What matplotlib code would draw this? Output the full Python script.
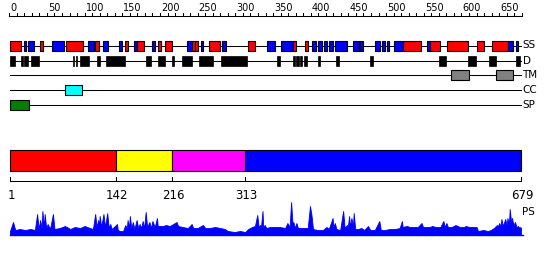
import matplotlib
matplotlib.use("Agg")
import matplotlib.pyplot as plt
from matplotlib.patches import Rectangle

SEQ_LEN = 679

# Secondary structure (SS): (start, end, type) H=helix(red) E=strand(blue)
ss_segments = [
    (1, 15, "H"), (19, 22, "E"), (25, 33, "E"), (41, 45, "H"), (57, 73, "E"),
    (75, 98, "H"), (105, 113, "E"), (114, 119, "H"), (125, 131, "E"), (145, 149, "E"),
    (153, 157, "H"), (165, 169, "E"), (169, 179, "H"), (189, 193, "E"), (198, 202, "H"),
    (206, 216, "H"), (236, 242, "E"), (242, 246, "H"), (247, 250, "H"), (254, 257, "E"),
    (265, 280, "H"), (282, 287, "E"), (317, 326, "H"), (342, 352, "E"), (361, 376, "E"),
    (376, 380, "H"), (392, 397, "H"), (402, 407, "E"), (410, 415, "E"), (417, 421, "E"),
    (424, 429, "E"), (432, 448, "E"), (456, 464, "E"), (464, 466, "H"), (466, 469, "E"),
    (485, 492, "E"), (494, 499, "E"), (501, 504, "E"), (510, 522, "E"), (522, 546, "H"),
    (554, 558, "E"), (558, 571, "H"), (581, 609, "H"), (621, 630, "H"), (640, 662, "H"),
    (662, 668, "E"), (673, 675, "E"),
]
ss_colors = {"H": "#ff0000", "E": "#0000ff"}

# Disorder (D) segments
d_segments = [
    (1, 8), (15, 18), (20, 25), (29, 39), (84, 86), (88, 90), (94, 106), (116, 121),
    (129, 154), (182, 188), (197, 206), (216, 219), (229, 243), (252, 270), (281, 316),
    (355, 359), (377, 379), (381, 384), (386, 388), (391, 395), (409, 412), (434, 437),
    (479, 482), (570, 579), (609, 619), (636, 646), (673, 678),
]

# Transmembrane (TM), coiled coil (CC), signal peptide (SP)
tm_segments = [(586, 610), (646, 669)]
cc_segments = [(74, 96)]
sp_segments = [(1, 26)]

track_names = ["SS", "D", "TM", "CC", "SP"]

# Domain bar
domain_bounds = [1, 142, 216, 313, 679]
domain_colors = ["#ff0000", "#ffff00", "#ff00ff", "#0000ff"]

# Ruler
ruler_ticks = list(range(0, 681, 10))
ruler_labels = list(range(0, 651, 50))

# PS profile (residue, value)
ps_pos = [1, 5, 8, 14, 21, 28, 34, 37, 39, 41, 43, 44, 46, 47, 49, 51, 54, 58, 60, 67,
          74, 81, 87, 94, 100, 107, 111, 114, 116, 118, 119, 120, 122, 125, 127, 130, 132,
          134, 136, 143, 144, 147, 151, 154, 156, 157, 159, 160, 162, 164, 166, 169, 171,
          173, 175, 177, 179, 181, 183, 186, 188, 190, 193, 196, 197, 204, 208, 213, 222,
          224, 230, 237, 242, 244, 250, 257, 260, 266, 273, 280, 286, 290, 299, 306, 313,
          317, 322, 326, 329, 331, 333, 334, 336, 337, 339, 341, 346, 353, 359, 366, 369,
          372, 374, 376, 377, 379, 381, 383, 390, 396, 399, 401, 403, 409, 416, 421, 424,
          429, 430, 432, 434, 439, 443, 445, 448, 449, 451, 452, 454, 456, 457, 459, 463,
          467, 471, 476, 479, 485, 491, 493, 498, 505, 512, 518, 521, 522, 527, 532, 538,
          542, 547, 549, 554, 558, 561, 566, 572, 576, 578, 580, 582, 587, 592, 598, 604,
          605, 611, 618, 620, 622, 629, 635, 639, 643, 647, 648, 650, 652, 653, 655, 658,
          660, 661, 663, 664, 666, 667, 669, 671, 673, 675, 677, 678, 679]
ps_val = [4, 13, 5, 6, 5, 6, 5, 21, 6, 15, 7, 24, 8, 21, 7, 11, 6, 21, 6, 7,
          9, 6, 8, 7, 9, 7, 6, 21, 8, 15, 8, 19, 8, 21, 8, 22, 7,
          11, 6, 11, 5, 4, 4, 10, 6, 15, 7, 19, 7, 13, 6, 15, 7,
          11, 7, 14, 7, 23, 8, 13, 7, 14, 8, 17, 9, 9, 10, 9, 13,
          9, 8, 7, 11, 7, 7, 10, 7, 7, 8, 7, 6, 4, 3, 4, 3,
          6, 8, 9, 20, 8, 10, 8, 24, 8, 10, 7, 8, 8, 8, 7, 12,
          8, 33, 9, 13, 7, 12, 7, 7, 7, 29, 20, 6, 5, 5, 8, 6,
          17, 8, 12, 6, 5, 24, 7, 10, 7, 19, 8, 17, 8, 22, 6, 6,
          7, 5, 9, 5, 5, 14, 5, 5, 6, 6, 7, 14, 8, 9, 8, 8,
          8, 12, 8, 8, 8, 9, 8, 8, 14, 8, 12, 8, 8, 10, 8, 8,
          9, 8, 8, 8, 4, 5, 4, 5, 7, 10, 8, 12, 9, 16, 9, 16,
          10, 17, 11, 26, 12, 17, 10, 13, 8, 9, 7, 8, 7]

# ---------------- layout (pixel-based y, residue-based x) ----------------
fig = plt.figure(figsize=(5.5, 2.6), dpi=100)
ax = fig.add_axes([0, 0, 1, 1])
px_per_res = 0.7537
x0 = 9.25
ax.set_xlim(-x0 / px_per_res, (550 - x0) / px_per_res)
ax.set_ylim(260, 0)
ax.axis("off")

def res(px):
    return px / px_per_res

lw = 0.75
# ruler
ruler_y = 16
ax.plot([ruler_ticks[0], ruler_ticks[-1]], [ruler_y, ruler_y], color="black", lw=lw)
for t in ruler_ticks:
    ax.plot([t, t], [ruler_y, ruler_y - 3], color="black", lw=lw)
for t in ruler_labels:
    ax.text(t + res(1), 11, str(t), fontsize=7, ha="left", va="baseline", color="black")

# tracks
track_y = {"SS": 45.5, "D": 60.5, "TM": 75, "CC": 90, "SP": 105}
box_h = 10
for name in track_names:
    y = track_y[name]
    ax.plot([1, SEQ_LEN], [y, y], color="black", lw=lw, zorder=1)
    ax.text(SEQ_LEN + res(1.5), y, name, fontsize=7.5, ha="left", va="center", color="black")

for s, e, t in ss_segments:
    y = track_y["SS"]
    ax.add_patch(Rectangle((s, y - box_h / 2), e - s, box_h, facecolor=ss_colors[t],
                           edgecolor="black", lw=0.8, zorder=2))
for s, e in d_segments:
    y = track_y["D"]
    ax.add_patch(Rectangle((s, y - box_h / 2), e - s, box_h, facecolor="black",
                           edgecolor="black", lw=0.5, zorder=2))
for segs, col, key in [(tm_segments, "#808080", "TM"), (cc_segments, "#00ffff", "CC"),
                       (sp_segments, "#008000", "SP")]:
    y = track_y[key]
    for s, e in segs:
        ax.add_patch(Rectangle((s, y - 5.3), e - s, 10.6, facecolor=col,
                               edgecolor="black", lw=0.8, zorder=2))

# domain bar
for i, col in enumerate(domain_colors):
    s, e = domain_bounds[i], domain_bounds[i + 1]
    ax.add_patch(Rectangle((s, 150), e - s, 21, facecolor=col, edgecolor="black",
                           lw=0.8, zorder=2))
dom_axis_y = 181
ax.plot([domain_bounds[0], domain_bounds[-1]], [dom_axis_y, dom_axis_y], color="black", lw=lw)
for b in domain_bounds:
    ax.plot([b, b], [dom_axis_y, dom_axis_y - 4], color="black", lw=lw)
    ax.text(b + res(1), 199, str(b), fontsize=8.5, ha="center", va="baseline", color="black")

# PS profile
base_y = 235
ax.fill_between(ps_pos, [base_y] * len(ps_pos), [base_y - v for v in ps_val],
                color="#0000ff", lw=0.6)
ax.plot([1, SEQ_LEN + res(2)], [base_y, base_y], color="#0000ff", lw=1)
ax.text(SEQ_LEN + res(0.5), 212, "PS", fontsize=7.5, ha="left", va="center", color="black")

fig.savefig("out.png", dpi=100)
